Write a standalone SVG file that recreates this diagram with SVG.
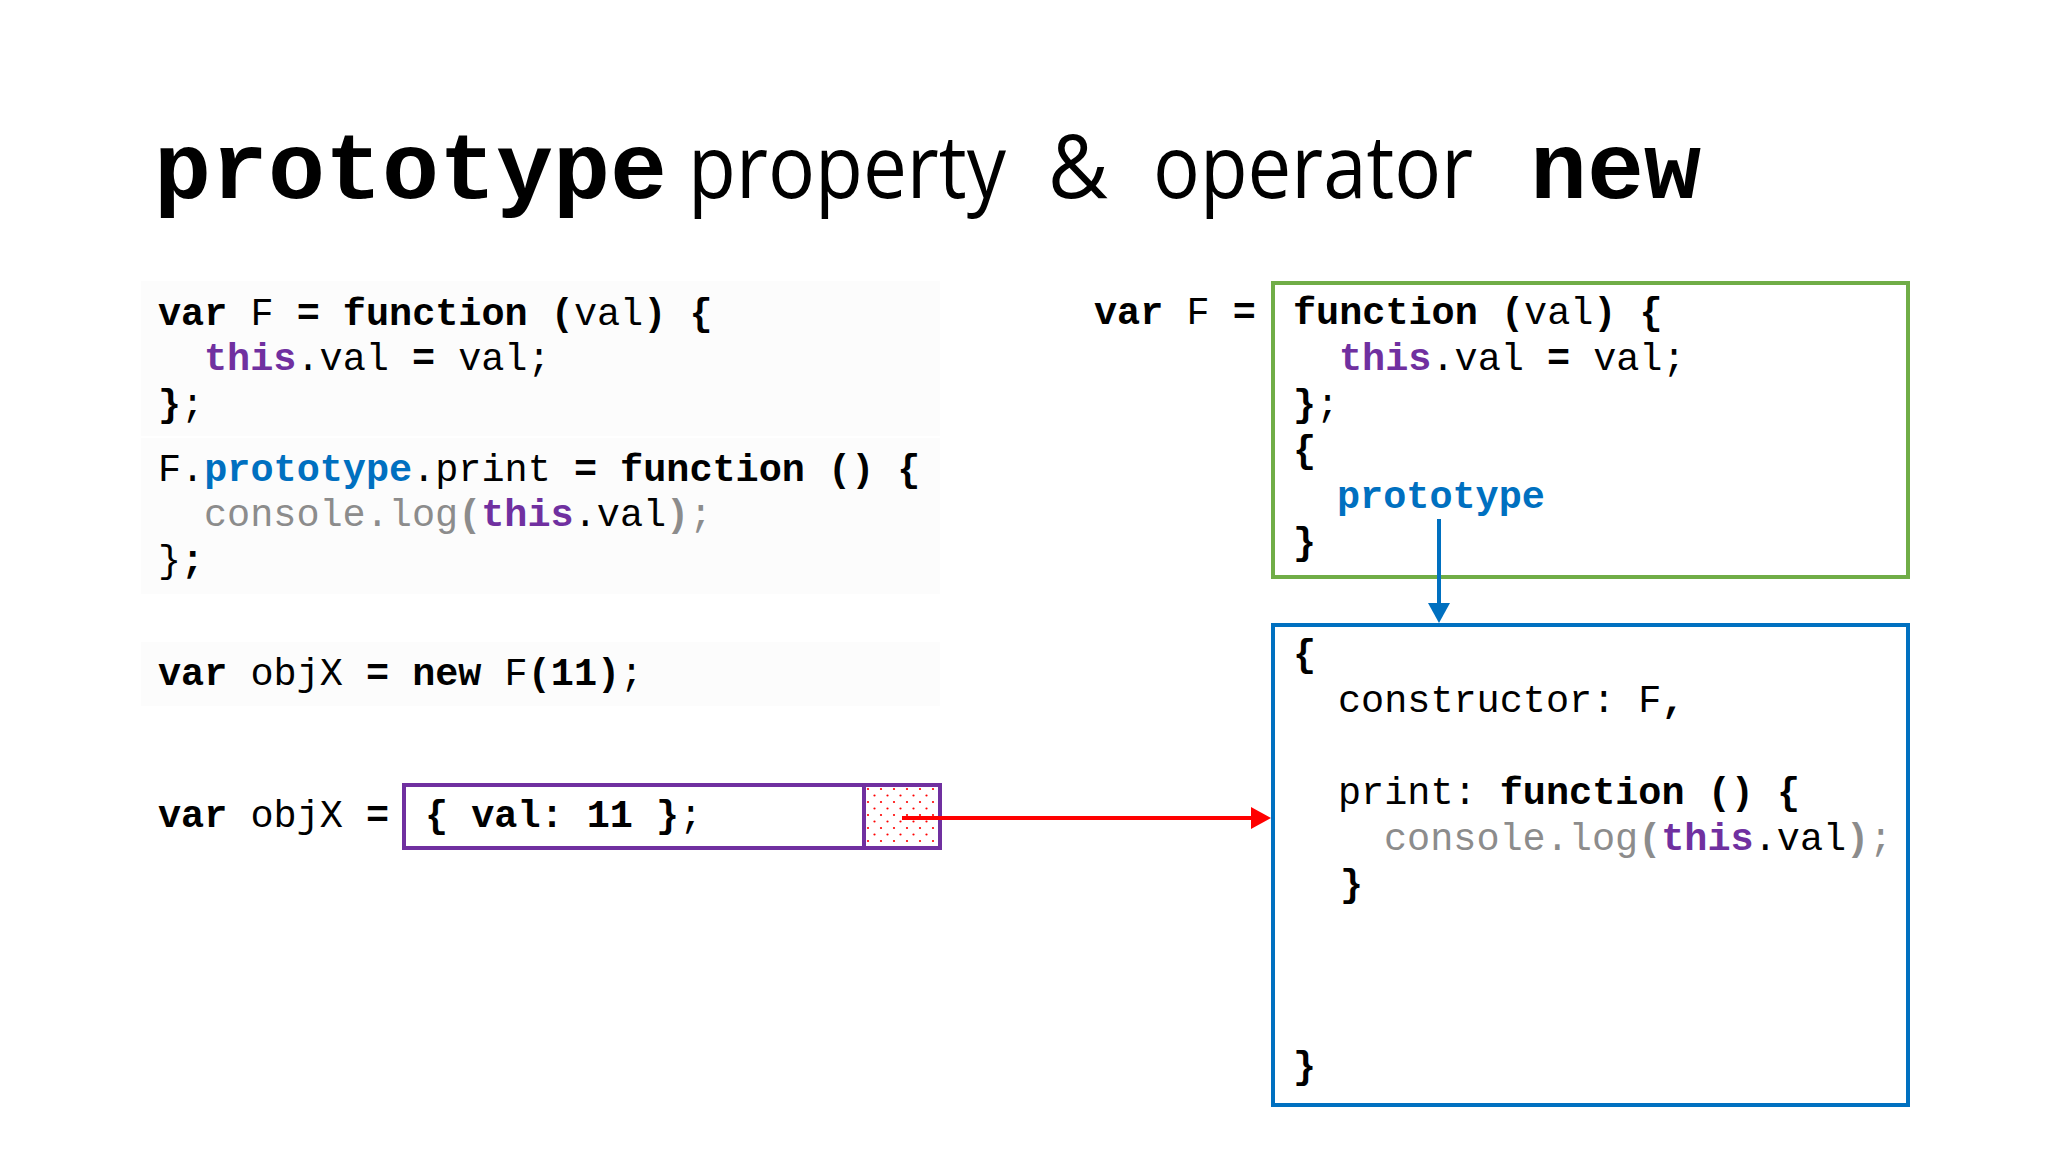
<svg xmlns="http://www.w3.org/2000/svg" width="2048" height="1152" viewBox="0 0 2048 1152">
<style>
.m { font-family: "Liberation Mono", "DejaVu Sans Mono", monospace; font-size: 38.5px; fill: #000; white-space: pre; }
.b { font-weight: bold; }
.pu { fill: #7030a0; font-weight: bold; }
.bl { fill: #0070c0; font-weight: bold; }
.gr { fill: #8c8c8c; }
.t { font-family: "Liberation Mono", "DejaVu Sans Mono", monospace; font-size: 95px; font-weight: bold; fill: #000; }
.s { font-family: "Open Sans", "Noto Sans", sans-serif; font-size: 88px; fill: #000; }
.bg { fill: #fcfcfc; }
.box { fill: #fff; stroke-width: 4; }
</style>
<defs>
<pattern id="dots" width="13" height="13" patternUnits="userSpaceOnUse" x="864" y="785">
<circle cx="4" cy="4" r="1.1" fill="#ff0000"/>
<circle cx="10.5" cy="10.5" r="1.1" fill="#ff0000"/>
</pattern>
<marker id="ahBlue" markerUnits="userSpaceOnUse" markerWidth="20" markerHeight="22" refX="10" refY="11" orient="auto">
<path d="M0,0 L20,11 L0,22 Z" fill="#0070c0"/>
</marker>
<marker id="ahRed" markerUnits="userSpaceOnUse" markerWidth="20" markerHeight="22" refX="10" refY="11" orient="auto">
<path d="M0,0 L20,11 L0,22 Z" fill="#ff0000"/>
</marker>
</defs>
<rect width="2048" height="1152" fill="#ffffff"/>
<g id="title">
<text class="t" x="154" y="198">prototype</text>
<text class="s" x="688" y="198" textLength="318" lengthAdjust="spacingAndGlyphs">property</text>
<text class="s" x="1048" y="198" textLength="60" lengthAdjust="spacingAndGlyphs">&amp;</text>
<text class="s" x="1153" y="198" textLength="320" lengthAdjust="spacingAndGlyphs">operator</text>
<text class="t" x="1530" y="198">new</text>
</g>
<g id="code-block-1">
<rect class="bg" x="141" y="281" width="799" height="155"/>
<text class="m" x="158" y="325"><tspan class="b">var</tspan> F <tspan class="b">= function (</tspan>val<tspan class="b">) {</tspan></text>
<text class="m" x="204" y="370"><tspan class="pu">this</tspan>.val <tspan class="b">=</tspan> val;</text>
<text class="m" x="158" y="416"><tspan class="b">}</tspan>;</text>
</g>
<g id="code-block-2">
<rect class="bg" x="141" y="438" width="799" height="156"/>
<text class="m" x="158" y="481">F.<tspan class="bl">prototype</tspan>.print <tspan class="b">= function () {</tspan></text>
<text class="m" x="204" y="526"><tspan class="gr">console.log</tspan><tspan class="gr b">(</tspan><tspan class="pu">this</tspan>.val<tspan class="gr b">)</tspan><tspan class="gr">;</tspan></text>
<text class="m" x="158" y="572">}<tspan class="b">;</tspan></text>
</g>
<g id="code-block-3">
<rect class="bg" x="141" y="642" width="799" height="64"/>
<text class="m" x="158" y="685"><tspan class="b">var</tspan> objX <tspan class="b">= new</tspan> F<tspan class="b">(11)</tspan>;</text>
</g>
<g id="objX">
<text class="m" x="158" y="827"><tspan class="b">var</tspan> objX <tspan class="b">=</tspan></text>
<rect class="box" x="404" y="785" width="536" height="63" stroke="#7030a0"/>
<rect x="866" y="787" width="72" height="59" fill="url(#dots)"/>
<line x1="864" y1="785" x2="864" y2="848" stroke="#7030a0" stroke-width="4"/>
<text class="m" x="425" y="827"><tspan class="b">{ val: 11 }</tspan>;</text>
</g>
<g id="function-F">
<text class="m" x="1094" y="324"><tspan class="b">var</tspan> F <tspan class="b">=</tspan></text>
<rect class="box" x="1273" y="283" width="635" height="294" stroke="#70ad47"/>
<text class="m" x="1293" y="324"><tspan class="b">function (</tspan>val<tspan class="b">) {</tspan></text>
<text class="m" x="1339" y="370"><tspan class="pu">this</tspan>.val <tspan class="b">=</tspan> val;</text>
<text class="m" x="1293" y="416"><tspan class="b">}</tspan>;</text>
<text class="m" x="1293" y="462"><tspan class="b">{</tspan></text>
<text class="m bl" x="1337" y="508">prototype</text>
<text class="m" x="1293" y="554"><tspan class="b">}</tspan></text>
</g>
<g id="prototype-object">
<rect class="box" x="1273" y="625" width="635" height="480" stroke="#0070c0"/>
<text class="m" x="1293" y="666"><tspan class="b">{</tspan></text>
<text class="m" x="1338" y="712">constructor: F<tspan class="b">,</tspan></text>
<text class="m" x="1338" y="804">print: <tspan class="b">function () {</tspan></text>
<text class="m" x="1384" y="850"><tspan class="gr">console.log</tspan><tspan class="gr b">(</tspan><tspan class="pu">this</tspan>.val<tspan class="gr b">)</tspan><tspan class="gr">;</tspan></text>
<text class="m" x="1340" y="896"><tspan class="b">}</tspan></text>
<text class="m" x="1293" y="1078"><tspan class="b">}</tspan></text>
</g>
<g id="connectors">
<line x1="1439" y1="519" x2="1439" y2="613" stroke="#0070c0" stroke-width="4" marker-end="url(#ahBlue)"/>
<line x1="902" y1="818" x2="1261" y2="818" stroke="#ff0000" stroke-width="4" marker-end="url(#ahRed)"/>
</g>
</svg>
